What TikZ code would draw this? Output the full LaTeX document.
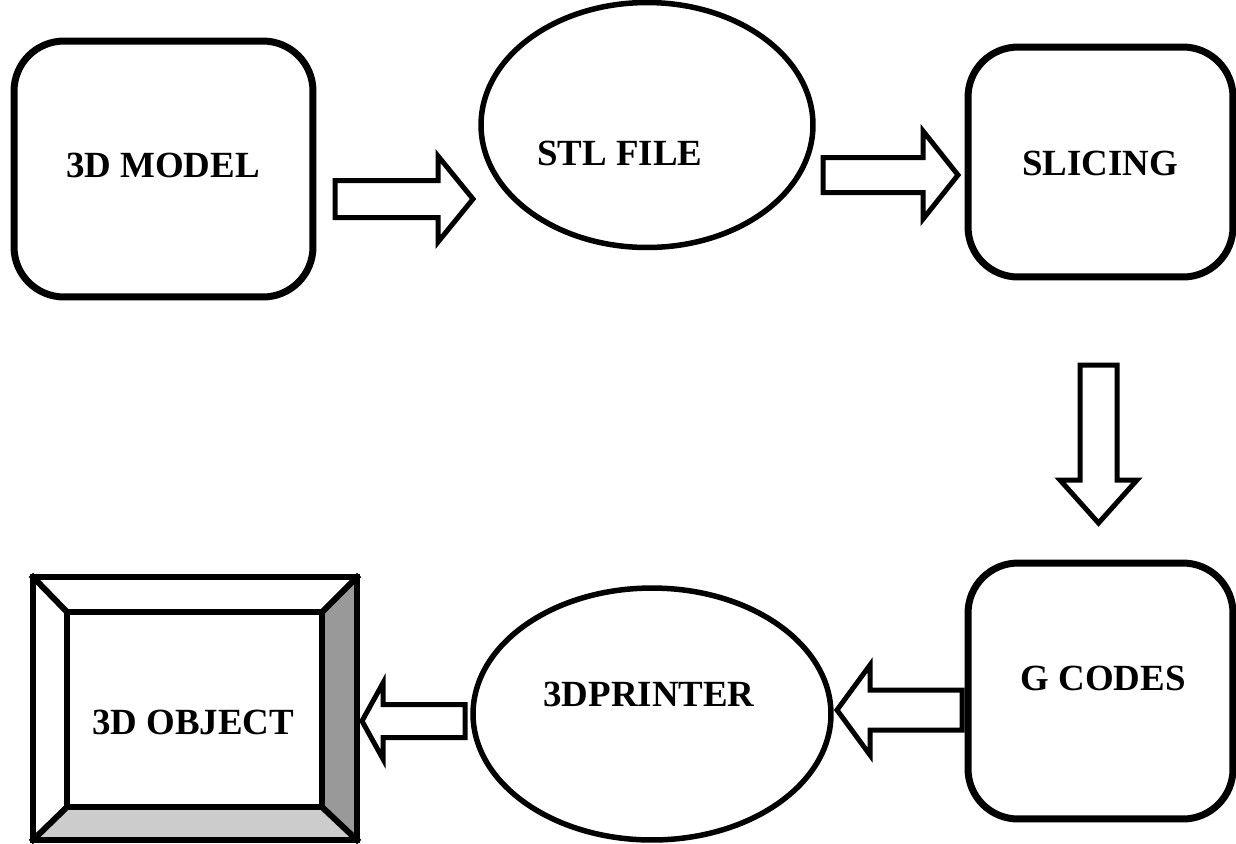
\documentclass[tikz,border=0pt]{standalone}
\usepackage{fontspec}
\setmainfont{Liberation Serif}
\usetikzlibrary{shapes.geometric,positioning,calc}

\definecolor{sidegray}{HTML}{999999}
\definecolor{basegray}{HTML}{CCCCCC}

\tikzset{
  stepbox/.style={draw, line width=1.4mm, rounded corners=1cm, inner sep=0pt},
  stepoval/.style={draw, ellipse, line width=1.1mm, inner sep=0pt},
  steptext/.style={font=\bfseries\fontsize{21}{24}\selectfont, inner sep=0pt},
  flowarrow/.style={draw, line width=1mm, fill=white},
  objline/.style={line width=1.2mm, line cap=rect}
}

% horizontal block arrow: start x, centre y, head base x, tip x, shaft half, head half
\newcommand\hblockarrow[6]{%
  \draw[flowarrow] (#1,#2-#5) -- (#3,#2-#5) -- (#3,#2-#6) -- (#4,#2)
    -- (#3,#2+#6) -- (#3,#2+#5) -- (#1,#2+#5) -- cycle;}

\begin{document}
\begin{tikzpicture}[x=0.02cm, y=-0.02cm]
  \useasboundingbox (0,0) rectangle (1236,843);

  % top row
  \node[stepbox, minimum width=5.98cm, minimum height=5.12cm] (model) at (163.5,169) {};
  \node[stepoval, minimum width=6.64cm, minimum height=4.9cm] (stl) at (647,125) {};
  \node[stepbox, minimum width=5.3cm, minimum height=4.6cm] (slicing) at (1100.5,162) {};

  % bottom row
  \node[stepbox, minimum width=5.3cm, minimum height=5.12cm] (gcodes) at (1100.5,691) {};
  \node[stepoval, minimum width=7.16cm, minimum height=5.04cm] (printer) at (652,714) {};

  % 3d object, bevelled frame
  \coordinate (objA) at (33,577);
  \coordinate (objB) at (357,840);
  \coordinate (objC) at (67,612);
  \coordinate (objD) at (322,807);
  \fill[sidegray] (objB|-objA) -- (objB) -- (objD) -- (objD|-objC) -- cycle;
  \fill[basegray] (objA|-objB) -- (objB) -- (objD) -- (objC|-objD) -- cycle;
  \draw[objline] (objA) rectangle (objB);
  \draw[objline] (objC) rectangle (objD);
  \draw[objline] (objA) -- (objC);
  \draw[objline] (objB|-objA) -- (objD|-objC);
  \draw[objline] (objA|-objB) -- (objC|-objD);
  \draw[objline] (objB) -- (objD);
  \node (object) at ($(objA)!0.5!(objB)$) {};

  % labels
  \node[steptext] (modeltxt) at (163,165) {3D MODEL};
  \node[steptext] (stltxt) at (620,153) {STL FILE};
  \node[steptext] (slicingtxt) at (1100,163) {SLICING};
  \node[steptext] (gcodestxt) at (1103,678) {G CODES};
  \node[steptext] (printertxt) at (649,694) {3DPRINTER};
  \node[steptext] (objecttxt) at (193,722) {3D OBJECT};

  % block arrows
  \hblockarrow{335}{199}{438}{473}{18.5}{43}
  \hblockarrow{823}{175}{923}{958}{17.5}{44}
  \draw[flowarrow] (1080,365) -- (1117,365) -- (1117,480) -- (1137,480) -- (1098.5,523)
    -- (1060,480) -- (1080,480) -- cycle;
  \hblockarrow{962}{710}{870}{837}{20}{45}
  \hblockarrow{465}{721}{383}{362}{16.5}{38}
\end{tikzpicture}
\end{document}
